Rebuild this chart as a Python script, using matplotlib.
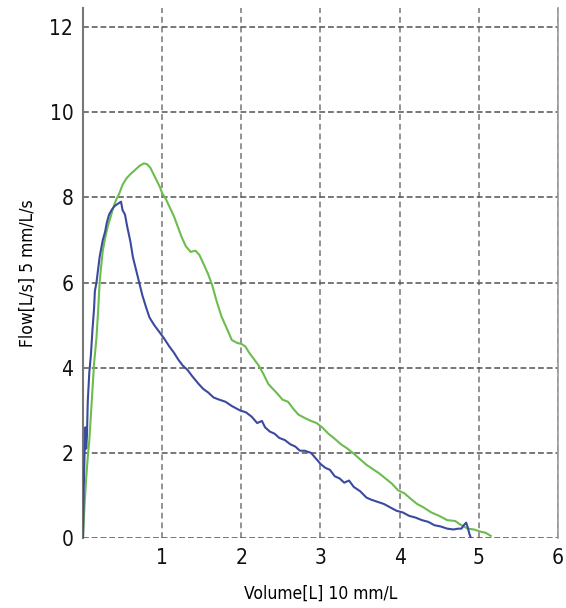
import matplotlib.pyplot as plt

# blue curve (volume L, flow L/s)
blue_x = [0.0, 0.01, 0.02, 0.03, 0.04, 0.05, 0.06, 0.08, 0.10, 0.12, 0.14, 0.15, 0.17,
          0.19, 0.21, 0.23, 0.25, 0.28, 0.30, 0.33, 0.36, 0.40, 0.44, 0.48, 0.50, 0.53,
          0.56, 0.60, 0.63, 0.67, 0.71, 0.75, 0.80, 0.84, 0.90, 0.96, 1.02, 1.09, 1.15,
          1.20, 1.26, 1.32, 1.38, 1.46, 1.52, 1.58, 1.65, 1.72, 1.80, 1.88, 1.98, 2.06,
          2.13, 2.20, 2.26, 2.30, 2.36, 2.42, 2.48, 2.55, 2.62, 2.68, 2.74, 2.80, 2.88,
          2.95, 3.00, 3.06, 3.12, 3.18, 3.24, 3.30, 3.36, 3.42, 3.50, 3.58, 3.64, 3.72,
          3.80, 3.88, 3.96, 4.04, 4.12, 4.20, 4.28, 4.36, 4.44, 4.52, 4.60, 4.68, 4.74,
          4.78, 4.81, 4.84, 4.86, 4.88, 4.90]
blue_y = [0.0, 1.2, 2.0, 2.6, 2.1, 2.4, 3.2, 3.9, 4.3, 4.9, 5.4, 5.8, 6.0,
          6.3, 6.6, 6.8, 7.0, 7.2, 7.4, 7.6, 7.7, 7.8, 7.85, 7.9, 7.7, 7.6,
          7.3, 6.95, 6.6, 6.3, 6.0, 5.7, 5.4, 5.18, 5.0, 4.85, 4.7, 4.5, 4.35,
          4.2, 4.05, 3.95, 3.8, 3.62, 3.5, 3.42, 3.3, 3.25, 3.2, 3.1, 3.0, 2.95,
          2.85, 2.7, 2.75, 2.6, 2.5, 2.45, 2.35, 2.3, 2.2, 2.15, 2.05, 2.05, 2.0,
          1.85, 1.74, 1.65, 1.6, 1.45, 1.4, 1.3, 1.35, 1.2, 1.1, 0.95, 0.9, 0.85,
          0.8, 0.72, 0.64, 0.6, 0.52, 0.48, 0.42, 0.38, 0.3, 0.27, 0.22, 0.2, 0.22,
          0.22, 0.3, 0.36, 0.25, 0.1, 0.0]

# green curve
green_x = [0.0, 0.02, 0.04, 0.06, 0.08, 0.10, 0.12, 0.14, 0.17, 0.19, 0.21, 0.23, 0.25,
           0.28, 0.31, 0.35, 0.38, 0.42, 0.46, 0.50, 0.55, 0.60, 0.66, 0.72, 0.77, 0.81,
           0.85, 0.89, 0.93, 0.97, 1.00, 1.05, 1.10, 1.15, 1.20, 1.25, 1.30, 1.36, 1.42,
           1.47, 1.52, 1.58, 1.63, 1.69, 1.75, 1.81, 1.88, 1.95, 2.00, 2.05, 2.10, 2.16,
           2.22, 2.28, 2.34, 2.40, 2.46, 2.52, 2.59, 2.65, 2.72, 2.80, 2.88, 2.95, 3.02,
           3.10, 3.18, 3.26, 3.34, 3.42, 3.50, 3.58, 3.66, 3.74, 3.82, 3.90, 3.98, 4.06,
           4.14, 4.22, 4.30, 4.40, 4.50, 4.60, 4.70, 4.78, 4.86, 4.94, 5.02, 5.09, 5.15]
green_y = [0.0, 0.8, 1.4, 1.9, 2.3, 2.9, 3.5, 4.1, 4.7, 5.3, 6.0, 6.4, 6.75,
           7.05, 7.3, 7.55, 7.75, 7.95, 8.1, 8.3, 8.45, 8.55, 8.65, 8.75, 8.8, 8.78,
           8.7, 8.55, 8.4, 8.25, 8.1, 7.95, 7.75, 7.55, 7.3, 7.05, 6.85, 6.72, 6.75,
           6.65, 6.45, 6.2, 5.95, 5.55, 5.2, 4.95, 4.65, 4.58, 4.56, 4.5, 4.35, 4.2,
           4.05, 3.85, 3.62, 3.5, 3.38, 3.25, 3.2, 3.05, 2.9, 2.82, 2.75, 2.7, 2.6,
           2.45, 2.33, 2.2, 2.1, 1.98, 1.85, 1.72, 1.62, 1.52, 1.4, 1.28, 1.12, 1.05,
           0.92, 0.8, 0.72, 0.6, 0.52, 0.42, 0.4, 0.3, 0.22, 0.2, 0.15, 0.12, 0.05]

x_ticks = [1, 2, 3, 4, 5, 6]
y_ticks = [0, 2, 4, 6, 8, 10, 12]

plt.rcParams['font.family'] = ['DejaVu Sans']
plt.rcParams['font.stretch'] = 'condensed'

fig = plt.figure(figsize=(5.66, 6.08), dpi=100)
ax = fig.add_axes([83 / 566, 1 - 538 / 608, (558 - 83) / 566, (538 - 8) / 608])

ax.set_xlim(0, 5.95)
ax.set_ylim(0, 12.45)

for xv in x_ticks:
    ax.axvline(xv, color='#777777', lw=1.4, ls=(0, (3, 2)), alpha=0.8, zorder=1)
for yv in y_ticks:
    ax.axhline(yv, color='#555555', lw=1.4, ls=(0, (3, 1.5)), alpha=0.8, zorder=1)

ax.plot(green_x, green_y, color='#6cbd4e', lw=1.5, zorder=3)
ax.plot(blue_x, blue_y, color='#3b4a9e', lw=1.5, zorder=4)

ax.set_xticks(x_ticks)
ax.set_yticks(y_ticks)
ax.tick_params(length=0, labelsize=15, pad=7, colors='#111111')

ax.spines['top'].set_visible(False)
ax.spines['bottom'].set_visible(False)
ax.spines['left'].set_color('#777777')
ax.spines['left'].set_linewidth(1.5)
ax.spines['right'].set_color('#999999')
ax.spines['right'].set_linewidth(1.2)

ax.set_xlabel('Volume[L] 10 mm/L', fontsize=12.5, labelpad=12)
ax.set_ylabel('Flow[L/s] 5 mm/L/s', fontsize=12.5, labelpad=9)

fig.savefig('out.png', dpi=100)
